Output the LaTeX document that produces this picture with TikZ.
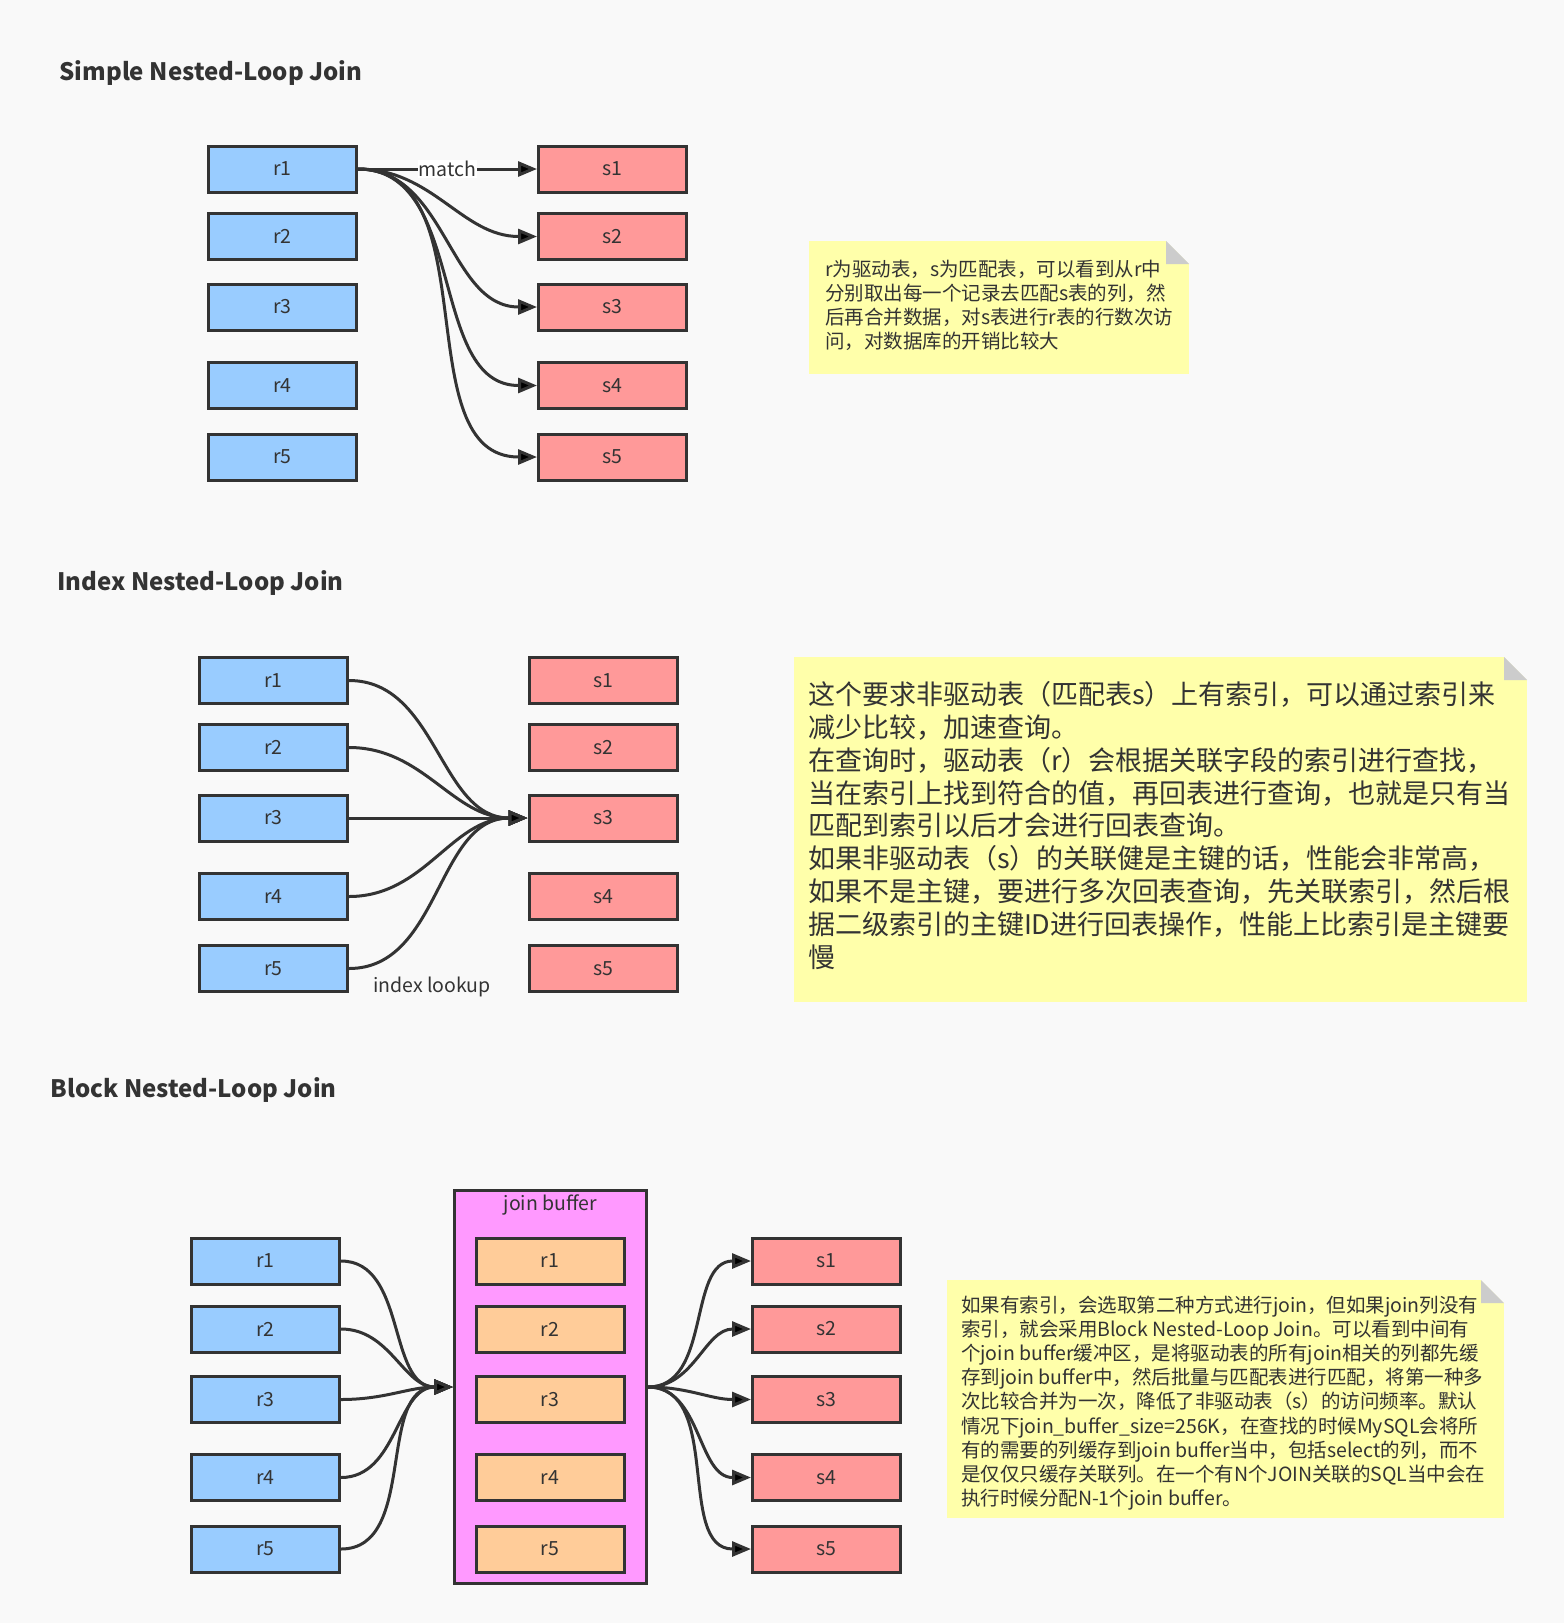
\documentclass[tikz,border=0pt]{standalone}
\usepackage{fontspec}
\setmainfont{Noto Sans CJK SC}
\usepackage{tikz}
\usetikzlibrary{arrows.meta, positioning}

\definecolor{bgcol}{HTML}{F9F9F9}
\definecolor{linecol}{HTML}{333333}
\definecolor{rcol}{HTML}{99CCFF}
\definecolor{scol}{HTML}{FF9999}
\definecolor{bufcol}{HTML}{FF99FF}
\definecolor{jcol}{HTML}{FFCC99}
\definecolor{notecol}{HTML}{FFFFAA}
\definecolor{foldcol}{HTML}{CCCCCC}

\tikzset{
	rec/.style={draw=linecol, line width=3pt, minimum width=148pt, minimum height=46pt,
		inner sep=0pt, text=linecol, font=\fontsize{19.5}{23}\selectfont},
	rbox/.style={rec, fill=rcol},
	sbox/.style={rec, fill=scol},
	jbox/.style={rec, fill=jcol},
	buffer/.style={draw=linecol, line width=3pt, fill=bufcol, minimum width=192pt,
		minimum height=393pt, inner sep=0pt},
	title/.style={anchor=base west, text=linecol, font=\fontsize{24}{28}\selectfont\bfseries},
	note/.style={fill=notecol, inner sep=0pt,
		path picture={
			\fill[bgcol] (path picture bounding box.north east) -- ++(-23pt,0pt) -- ++(23pt,-23pt) -- cycle;
			\fill[foldcol] (path picture bounding box.north east) ++(-23pt,0pt) -- ++(0pt,-23pt) -- ++(23pt,0pt) -- cycle;
		}},
	notetext/.style={anchor=west, align=left, inner sep=0pt, text=linecol},
	small/.style={font=\fontsize{19.5}{24.1}\selectfont},
	big/.style={font=\fontsize{27}{32.9}\selectfont},
	link/.style={draw=linecol, line width=3pt, -{Triangle[length=19pt, width=15pt]}},
	lbl/.style={fill=white, inner sep=1pt, text=linecol, font=\fontsize{19.5}{23}\selectfont}
}

\begin{document}
\begin{tikzpicture}[x=1pt, y=-1pt]
	\useasboundingbox (0,0) rectangle (1564,1623);
	\fill[bgcol] (0,0) rectangle (1564,1623);

	% Simple Nested-Loop Join
	\node[title] (t1) at (56,80) {Simple Nested-Loop Join};
	\node[rbox] (r1) at (282.5,169) {r1};
	\node[rbox] (r2) at (282.5,236.5) {r2};
	\node[rbox] (r3) at (282.5,307) {r3};
	\node[rbox] (r4) at (282.5,385.5) {r4};
	\node[rbox] (r5) at (282.5,457) {r5};
	\node[sbox] (s1) at (612.5,169) {s1};
	\node[sbox] (s2) at (612.5,236.5) {s2};
	\node[sbox] (s3) at (612.5,307) {s3};
	\node[sbox] (s4) at (612.5,385.5) {s4};
	\node[sbox] (s5) at (612.5,457) {s5};

	\draw[link] (r1) edge node[lbl]{match} (s1)
	      (r1) edge[out=0, in=180] (s2)
	      (r1) edge[out=0, in=180] (s3)
	      (r1) edge[out=0, in=180] (s4)
	      (r1) edge[out=0, in=180] (s5);

	\node[note, minimum width=380pt, minimum height=133pt] (n1) at (999,307.5) {};
	\node[notetext, small, yshift=2pt] (nt1) at ([xshift=16pt]n1.west) {r为驱动表，s为匹配表，可以看到从r中\\
		分别取出每一个记录去匹配s表的列，然\\
		后再合并数据，对s表进行r表的行数次访\\
		问，对数据库的开销比较大};

	% Index Nested-Loop Join
	\node[title] (t2) at (54,590) {Index Nested-Loop Join};
	\node[rbox] (ir1) at (273.5,680.5) {r1};
	\node[rbox] (ir2) at (273.5,747.5) {r2};
	\node[rbox] (ir3) at (273.5,818) {r3};
	\node[rbox] (ir4) at (273.5,896.5) {r4};
	\node[rbox] (ir5) at (273.5,968.5) {r5};
	\node[sbox] (is1) at (603,680.5) {s1};
	\node[sbox] (is2) at (603,747.5) {s2};
	\node[sbox] (is3) at (603,818) {s3};
	\node[sbox] (is4) at (603,896.5) {s4};
	\node[sbox] (is5) at (603,968.5) {s5};

	\draw[link] (ir1) edge[out=0, in=180] (is3)
	      (ir2) edge[out=0, in=180] (is3)
	      (ir3) edge (is3)
	      (ir4) edge[out=0, in=180] (is3)
	      (ir5) edge[out=0, in=180] (is3);
	\node[text=linecol, font=\fontsize{19.5}{23}\selectfont] (lookup) at (432,987) {index lookup};

	\node[note, minimum width=733pt, minimum height=345pt] (n2) at (1160.5,829.5) {};
	\node[notetext, big, yshift=4pt] (nt2) at ([xshift=14pt]n2.west) {这个要求非驱动表（匹配表s）上有索引，可以通过索引来\\
		减少比较，加速查询。\\
		在查询时，驱动表（r）会根据关联字段的索引进行查找，\\
		当在索引上找到符合的值，再回表进行查询，也就是只有当\\
		匹配到索引以后才会进行回表查询。\\
		如果非驱动表（s）的关联健是主键的话，性能会非常高，\\
		如果不是主键，要进行多次回表查询，先关联索引，然后根\\
		据二级索引的主键ID进行回表操作，性能上比索引是主键要\\
		慢};

	% Block Nested-Loop Join
	\node[title] (t3) at (47,1097) {Block Nested-Loop Join};
	\node[rbox] (br1) at (265.5,1261) {r1};
	\node[rbox] (br2) at (265.5,1329) {r2};
	\node[rbox] (br3) at (265.5,1399.5) {r3};
	\node[rbox] (br4) at (265.5,1477.5) {r4};
	\node[rbox] (br5) at (265.5,1549) {r5};
	\node[buffer] (buf) at (550.5,1387) {};
	\node[text=linecol, font=\fontsize{19.5}{23}\selectfont, below=2pt of buf.north] (buflbl) {join buffer};
	\node[jbox] (bj1) at (550,1261) {r1};
	\node[jbox] (bj2) at (550,1329) {r2};
	\node[jbox] (bj3) at (550,1399.5) {r3};
	\node[jbox] (bj4) at (550,1477.5) {r4};
	\node[jbox] (bj5) at (550,1549) {r5};
	\node[sbox] (bs1) at (826.5,1261) {s1};
	\node[sbox] (bs2) at (826.5,1329) {s2};
	\node[sbox] (bs3) at (826.5,1399.5) {s3};
	\node[sbox] (bs4) at (826.5,1477.5) {s4};
	\node[sbox] (bs5) at (826.5,1549) {s5};

	\draw[link] (br1) edge[out=0, in=180] (buf)
	      (br2) edge[out=0, in=180] (buf)
	      (br3) edge[out=0, in=180] (buf)
	      (br4) edge[out=0, in=180] (buf)
	      (br5) edge[out=0, in=180] (buf)
	      (buf) edge[out=0, in=180] (bs1)
	      (buf) edge[out=0, in=180] (bs2)
	      (buf) edge[out=0, in=180] (bs3)
	      (buf) edge[out=0, in=180] (bs4)
	      (buf) edge[out=0, in=180] (bs5);

	\node[note, minimum width=557pt, minimum height=238pt] (n3) at (1225.5,1399) {};
	\node[notetext, small, yshift=-4pt] (nt3) at ([xshift=14pt]n3.west) {如果有索引，会选取第二种方式进行join，但如果join列没有\\
		索引，就会采用Block Nested-Loop Join。可以看到中间有\\
		个join buffer缓冲区，是将驱动表的所有join相关的列都先缓\\
		存到join buffer中，然后批量与匹配表进行匹配，将第一种多\\
		次比较合并为一次，降低了非驱动表（s）的访问频率。默认\\
		情况下join\_buffer\_size=256K，在查找的时候MySQL会将所\\
		有的需要的列缓存到join buffer当中，包括select的列，而不\\
		是仅仅只缓存关联列。在一个有N个JOIN关联的SQL当中会在\\
		执行时候分配N-1个join buffer。};
\end{tikzpicture}
\end{document}
